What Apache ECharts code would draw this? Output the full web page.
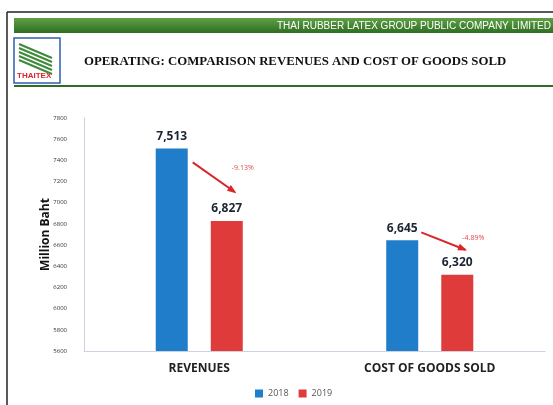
<!DOCTYPE html>
<html lang="en">
<head>
    <meta charset="UTF-8">
    <title>Revenues and COGS</title>
    <script src="https://cdn.jsdelivr.net/npm/echarts@6/dist/echarts.min.js"></script>
    <style>
        body { margin: 0; background: #fff; }
    </style>
</head>
<body>
    <div id="main" style="width: 553px;height:405px;"></div>
    <script type="text/javascript">
    // data
    var categories = ['REVENUES', 'COST OF GOODS SOLD'];
    var years = ['2018', '2019'];
    var values2018 = [7513, 6645];
    var values2019 = [6827, 6320];
    var yTicks = { min: 5600, max: 7800, step: 200 };

    var blue = '#1f7dc9';
    var red = '#df3b3b';

    function fmt(v) {
        return v.toLocaleString('en-US');
    }

    var myChart = echarts.init(document.getElementById('main'));

    var option = {
        animation: false,
        backgroundColor: '#fff',
        grid: { left: 84, right: 8, top: 118, bottom: 54 },
        legend: {
            data: years,
            bottom: 2,
            left: 250,
            itemWidth: 8,
            itemHeight: 8,
            itemGap: 10,
            icon: 'rect',
            textStyle: { fontSize: 9, color: '#555', fontFamily: 'Open Sans' }
        },
        xAxis: {
            type: 'category',
            data: categories,
            axisLine: { lineStyle: { color: '#cdd2e2' } },
            axisTick: { show: false },
            axisLabel: { fontSize: 12, fontWeight: 'bold', color: '#222', margin: 12, fontFamily: 'Open Sans' }
        },
        yAxis: {
            type: 'value',
            min: yTicks.min,
            max: yTicks.max,
            interval: yTicks.step,
            name: 'Million Baht',
            nameLocation: 'middle',
            nameRotate: 90,
            nameGap: 32,
            nameMoveOverlap: false,
            nameTextStyle: { fontSize: 12, fontWeight: 'bold', color: '#111', fontFamily: 'Open Sans' },
            axisLine: { show: true, lineStyle: { color: '#cdd2e2' } },
            axisTick: { show: false },
            splitLine: { show: false },
            axisLabel: { fontSize: 6, color: '#333', margin: 17, fontFamily: 'Open Sans', formatter: function (v) { return String(v); } }
        },
        series: [
            {
                name: years[0],
                type: 'bar',
                data: values2018,
                barWidth: 32,
                barGap: '72%',
                itemStyle: { color: blue },
                label: {
                    show: true, position: 'top', distance: 6,
                    formatter: function (p) { return fmt(p.value); },
                    fontSize: 12, fontWeight: 'bold', color: '#1b2533', fontFamily: 'Open Sans'
                }
            },
            {
                name: years[1],
                type: 'bar',
                data: values2019,
                barWidth: 32,
                itemStyle: { color: red },
                label: {
                    show: true, position: 'top', distance: 6,
                    formatter: function (p) { return fmt(p.value); },
                    fontSize: 12, fontWeight: 'bold', color: '#1b2533', fontFamily: 'Open Sans'
                }
            }
        ]
    };
    myChart.setOption(option);

    // slide chrome (header bar, logo, title)
    var chrome = [
        { type: 'line', shape: { x1: 7, y1: 12, x2: 553, y2: 12 }, style: { stroke: '#222', lineWidth: 1.5 } },
        { type: 'line', shape: { x1: 7, y1: 12, x2: 7, y2: 405 }, style: { stroke: '#222', lineWidth: 1.5 } },
        { type: 'rect', shape: { x: 14, y: 18, width: 539, height: 15 }, style: { fill: new echarts.graphic.LinearGradient(0, 0, 0, 1, [{ offset: 0, color: '#5fa046' }, { offset: 1, color: '#2e6e22' }]) } },
        { type: 'text', style: { x: 551, y: 26, text: 'THAI RUBBER LATEX GROUP PUBLIC COMPANY LIMITED', fill: '#fff', fontSize: 10, fontFamily: 'Liberation Sans', align: 'right', verticalAlign: 'middle' } },
        { type: 'rect', shape: { x: 14, y: 38, width: 46, height: 45 }, style: { fill: '#fff', stroke: '#2c5fb0', lineWidth: 1.5 } },
        { type: 'text', style: { x: 17, y: 76, text: 'THAITEX', fill: '#d8262b', fontSize: 8, fontWeight: 'bold', fontFamily: 'Liberation Sans', verticalAlign: 'middle' } },
        { type: 'text', style: { x: 84, y: 62, text: 'OPERATING: COMPARISON REVENUES AND COST OF GOODS SOLD', fill: '#111', fontSize: 12.8, fontWeight: 'bold', fontFamily: 'Liberation Serif', verticalAlign: 'middle' } },
        { type: 'rect', shape: { x: 14, y: 85, width: 539, height: 2 }, style: { fill: '#2e6e22' } }
    ];
    for (var k = 0; k < 5; k++) {
        chrome.push({ type: 'line', shape: { x1: 19, y1: 44 + k * 4, x2: 52, y2: 58 + k * 4 }, style: { stroke: '#3f8a3a', lineWidth: 2 } });
    }

    // change arrows, placed relative to the category centre and bar tops
    // [start dx, start dy, end dx, end dy] per category
    var arrowOffsets = [[-6.5, 14, 35.5, -29], [-8.5, -8, 35.5, -25]];
    var arrows = [];
    for (var i = 0; i < categories.length; i++) {
        var a = myChart.convertToPixel({ seriesIndex: 0 }, [i, values2018[i]]);
        var b = myChart.convertToPixel({ seriesIndex: 1 }, [i, values2019[i]]);
        var o = arrowOffsets[i];
        var x1 = a[0] + o[0], y1 = a[1] + o[1];
        var x2 = b[0] + o[2], y2 = b[1] + o[3];
        var ang = Math.atan2(y2 - y1, x2 - x1);
        var hl = 8;
        arrows.push({ type: 'line', shape: { x1: x1, y1: y1, x2: x2, y2: y2 }, style: { stroke: '#d9262b', lineWidth: 2 } });
        arrows.push({ type: 'polygon', shape: { points: [
            [x2 + 2 * Math.cos(ang), y2 + 2 * Math.sin(ang)],
            [x2 - hl * Math.cos(ang - 0.45), y2 - hl * Math.sin(ang - 0.45)],
            [x2 - hl * Math.cos(ang + 0.45), y2 - hl * Math.sin(ang + 0.45)]
        ] }, style: { fill: '#d9262b' } });
        var pct = ((values2019[i] - values2018[i]) / values2018[i] * 100).toFixed(2) + '%';
        arrows.push({ type: 'text', style: { x: x2 + 8, y: y1 + 6, text: pct, fill: '#e0484c', fontSize: 7, fontFamily: 'Open Sans', align: 'center', verticalAlign: 'middle' } });
    }

    myChart.setOption({ graphic: chrome.concat(arrows) });
    </script>
</body>
</html>
